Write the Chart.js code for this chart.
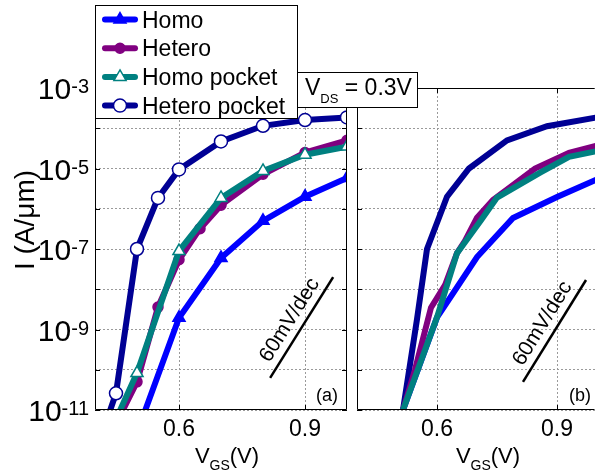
<!DOCTYPE html>
<html>
<head>
<meta charset="utf-8">
<title>Id-Vgs</title>
<script src="https://cdn.jsdelivr.net/npm/chart.js@4.4.0/dist/chart.umd.min.js"></script>
<style>
  body { margin: 0; background: #fff; }
  #wrap { position: relative; width: 595px; height: 474px; }
  #wrap canvas { position: absolute; left: 0; top: 0; }
</style>
</head>
<body>
<div id="wrap">
  <canvas id="chartA" width="595" height="474"></canvas>
  <canvas id="chartB" width="595" height="474"></canvas>
</div>
<script>
const seriesNames = ['Homo', 'Hetero', 'Homo pocket', 'Hetero pocket'];
const seriesColors = ['#0000ff', '#800080', '#008080', '#000094'];

// panel (a), with markers
const vgsHomoA = [0.5, 0.6, 0.7, 0.8, 0.9, 1.0];
const idHomoA = [2.7e-12, 1.95e-9, 6.0e-8, 5.0e-7, 2.0e-6, 5.8e-6];
const vgsHeteroA = [0.45, 0.5, 0.55, 0.6, 0.65, 0.7, 0.8, 0.9, 1.0];
const idHeteroA = [4.5e-12, 5.0e-11, 3.6e-9, 5.4e-8, 3.2e-7, 1.23e-6, 7.2e-6, 2.5e-5, 5.0e-5];
const vgsHomoPocketA = [0.45, 0.5, 0.6, 0.7, 0.8, 0.9, 1.0];
const idHomoPocketA = [5.9e-12, 8.3e-11, 8.9e-8, 1.86e-6, 8.7e-6, 2.2e-5, 3.5e-5];
const vgsHeteroPocketA = [0.4, 0.45, 0.5, 0.55, 0.6, 0.7, 0.8, 0.9, 1.0];
const idHeteroPocketA = [7.9e-13, 2.6e-11, 1.0e-7, 1.86e-6, 9.5e-6, 4.7e-5, 1.15e-4, 1.6e-4, 1.86e-4];

// panel (b), lines only
const vgsHomoB = [0.515, 0.6, 0.64, 0.7, 0.79, 0.9, 1.0];
const idHomoB = [1e-11, 2.0e-9, 7.9e-9, 6.3e-8, 5.9e-7, 1.95e-6, 5.4e-6];
const vgsHeteroB = [0.515, 0.545, 0.585, 0.62, 0.65, 0.67, 0.7, 0.74, 0.845, 0.93, 1.0];
const idHeteroB = [1e-11, 1e-10, 3.5e-9, 1.26e-8, 7.9e-8, 1.6e-7, 6.0e-7, 1.66e-6, 1.0e-5, 2.45e-5, 3.7e-5];
const vgsHomoPocketB = [0.515, 0.6, 0.65, 0.665, 0.71, 0.75, 0.86, 0.93, 1.0];
const idHomoPocketB = [1e-11, 2.0e-9, 7.9e-8, 1.26e-7, 5.2e-7, 1.9e-6, 8.1e-6, 1.95e-5, 2.7e-5];
const vgsHeteroPocketB = [0.515, 0.55, 0.575, 0.625, 0.68, 0.775, 0.875, 1.0];
const idHeteroPocketB = [1e-11, 1.8e-9, 1e-7, 2.0e-6, 1e-5, 5.0e-5, 1.12e-4, 1.86e-4];

// 60 mV/dec guide lines
const slopeVgsA = [0.817, 0.967];
const slopeIdA = [6.3e-11, 2.0e-8];
const slopeVgsB = [0.815, 0.9725];
const slopeIdB = [5.0e-11, 1.7e-8];

const xTicks = [0.6, 0.9];
const yDecades = [1e-11, 1e-10, 1e-9, 1e-8, 1e-7, 1e-6, 1e-5, 1e-4, 1e-3];
const yLabelExps = [-11, -9, -7, -5, -3];

const FONT = 'Arial, "Liberation Sans", sans-serif';
const font = size => size + 'px ' + FONT;

const markerStyles = [
  { pointStyle: 'triangle', radius: 7, solid: true },
  { pointStyle: 'circle', radius: 5, solid: true },
  { pointStyle: 'triangle', radius: 7, solid: false },
  { pointStyle: 'circle', radius: 6.5, solid: false }
];
const drawOrder = [2, 1, 0, 3];

function toPoints(xs, ys) {
  return xs.map((x, i) => ({ x: x, y: ys[i] }));
}

function seriesDataset(i, xs, ys, withMarkers) {
  const m = markerStyles[i];
  return {
    label: seriesNames[i],
    data: toPoints(xs, ys),
    borderColor: seriesColors[i],
    borderWidth: 6,
    pointStyle: m.pointStyle,
    pointRadius: withMarkers ? m.radius : 0,
    pointBackgroundColor: m.solid ? seriesColors[i] : '#fff',
    pointBorderColor: seriesColors[i],
    pointBorderWidth: 1.5,
    tension: 0,
    order: drawOrder[i]
  };
}

function slopeDataset(xs, ys) {
  return { data: toPoints(xs, ys), borderColor: '#000', borderWidth: 2.5, pointRadius: 0, order: 10 };
}

function panelOptions(xMax, yWidth, padRight) {
  return {
    responsive: false,
    animation: false,
    events: [],
    layout: { padding: { top: 88, right: padRight, left: 0, bottom: 0 } },
    plugins: { legend: { display: false }, tooltip: { enabled: false } },
    scales: {
      x: {
        type: 'linear', min: 0.4, max: xMax,
        afterBuildTicks: s => { s.ticks = xTicks.map(v => ({ value: v })); },
        afterFit: s => { s.height = 64; },
        grid: { color: '#9a9a9a', lineWidth: 1, drawTicks: false },
        border: { display: false, dash: [2, 2] },
        ticks: { color: '#000', font: { size: 23, family: FONT }, padding: 6, maxRotation: 0, autoSkip: false }
      },
      y: {
        type: 'logarithmic', min: 1e-11, max: 1e-3,
        afterBuildTicks: s => { s.ticks = yDecades.map(v => ({ value: v })); },
        afterFit: s => { s.width = yWidth; },
        grid: { color: '#9a9a9a', lineWidth: 1, drawTicks: false },
        border: { display: false, dash: [2, 2] },
        ticks: { display: false }
      }
    }
  };
}

function drawRuns(ctx, runs, x, y) {
  ctx.textAlign = 'left';
  ctx.textBaseline = 'alphabetic';
  for (const [t, size, dy] of runs) {
    ctx.font = font(size);
    ctx.fillText(t, x, y + dy);
    x += ctx.measureText(t).width;
  }
  return x;
}

function runsWidth(ctx, runs) {
  let w = 0;
  for (const [t, size] of runs) { ctx.font = font(size); w += ctx.measureText(t).width; }
  return w;
}

function drawFrame(ctx, a, sides) {
  const l = Math.round(a.left) + 0.5, r = Math.round(a.right) - 0.5;
  const t = Math.round(a.top) + 0.5, b = Math.round(a.bottom) - 0.5;
  ctx.save();
  ctx.strokeStyle = '#000';
  ctx.lineWidth = 1;
  ctx.beginPath();
  if (sides.includes('l')) { ctx.moveTo(l, t); ctx.lineTo(l, b); }
  if (sides.includes('r')) { ctx.moveTo(r, t); ctx.lineTo(r, b); }
  if (sides.includes('t')) { ctx.moveTo(l, t); ctx.lineTo(r, t); }
  if (sides.includes('b')) { ctx.moveTo(l, b); ctx.lineTo(r, b); }
  ctx.stroke();
  ctx.restore();
}

// tick marks point into the plot
function drawInnerTicks(ctx, chart, sides) {
  const a = chart.chartArea, xs = chart.scales.x, ys = chart.scales.y;
  ctx.save();
  ctx.strokeStyle = '#000';
  ctx.lineWidth = 1;
  ctx.beginPath();
  yDecades.forEach(v => {
    const py = Math.round(ys.getPixelForValue(v)) + 0.5;
    if (sides.includes('l')) { ctx.moveTo(a.left, py); ctx.lineTo(a.left + 5, py); }
    if (sides.includes('r')) { ctx.moveTo(a.right, py); ctx.lineTo(a.right - 5, py); }
  });
  xTicks.forEach(v => {
    const px = Math.round(xs.getPixelForValue(v)) + 0.5;
    ctx.moveTo(px, a.bottom); ctx.lineTo(px, a.bottom - 5);
    ctx.moveTo(px, a.top); ctx.lineTo(px, a.top + 5);
  });
  ctx.stroke();
  ctx.restore();
}

function drawSlopeLabel(ctx, chart, vx, vy) {
  const xs = chart.scales.x, ys = chart.scales.y;
  const x1 = xs.getPixelForValue(vx[0]), y1 = ys.getPixelForValue(vy[0]);
  const x2 = xs.getPixelForValue(vx[1]), y2 = ys.getPixelForValue(vy[1]);
  const ang = Math.atan2(y2 - y1, x2 - x1);
  const cx = (x1 + x2) / 2 + Math.sin(ang) * 14;
  const cy = (y1 + y2) / 2 - Math.cos(ang) * 14;
  ctx.save();
  ctx.translate(cx, cy);
  ctx.rotate(ang);
  ctx.fillStyle = '#000';
  ctx.font = font(21);
  ctx.textAlign = 'center';
  ctx.textBaseline = 'middle';
  ctx.fillText('60mV/dec', 0, 0);
  ctx.restore();
}

function drawVgsTitle(ctx, cx) {
  const runs = [['V', 22, 0], ['GS', 14, 7], ['(V)', 22, 0]];
  ctx.fillStyle = '#000';
  drawRuns(ctx, runs, cx - runsWidth(ctx, runs) / 2, 463);
}

function drawPanelTag(ctx, text, cx) {
  ctx.fillStyle = '#000';
  ctx.font = font(18);
  ctx.textAlign = 'center';
  ctx.textBaseline = 'middle';
  ctx.fillText(text, cx, 396);
}

function drawYAxisText(ctx, chart) {
  const ys = chart.scales.y;
  ctx.fillStyle = '#000';
  ctx.textAlign = 'left';
  ctx.textBaseline = 'alphabetic';
  yLabelExps.forEach(e => {
    const py = ys.getPixelForValue(Math.pow(10, e));
    ctx.font = font(30);
    const wb = ctx.measureText('10').width;
    ctx.font = font(20);
    const ws = ctx.measureText(String(e)).width;
    const x0 = chart.chartArea.left - 6 - wb - ws;
    ctx.font = font(30);
    ctx.fillText('10', x0, py + 11);
    ctx.font = font(20);
    ctx.fillText(String(e), x0 + wb, py + 5);
  });
  ctx.save();
  ctx.translate(34, 220);
  ctx.rotate(-Math.PI / 2);
  ctx.font = font(28);
  ctx.textAlign = 'center';
  ctx.fillText('I (A/\u03bcm)', 0, 0);
  ctx.restore();
}

function drawLegend(ctx) {
  const bx = 95, by = 5, bw = 202, bh = 113;
  ctx.save();
  ctx.fillStyle = '#fff';
  ctx.fillRect(bx, by, bw, bh);
  ctx.strokeStyle = '#000';
  ctx.lineWidth = 1;
  ctx.strokeRect(bx + 0.5, by + 0.5, bw, bh);
  seriesNames.forEach((name, i) => {
    const cy = 19.5 + i * 28.7;
    const m = markerStyles[i];
    ctx.strokeStyle = seriesColors[i];
    ctx.lineWidth = 6;
    ctx.lineCap = 'round';
    ctx.beginPath();
    ctx.moveTo(105, cy);
    ctx.lineTo(135, cy);
    ctx.stroke();
    ctx.fillStyle = m.solid ? seriesColors[i] : '#fff';
    ctx.lineWidth = 1.5;
    Chart.helpers.drawPoint(ctx, { pointStyle: m.pointStyle, radius: m.radius, borderWidth: 1.5, rotation: 0 }, 120, cy);
    ctx.fillStyle = '#000';
    ctx.font = font(23);
    ctx.textAlign = 'left';
    ctx.textBaseline = 'alphabetic';
    ctx.fillText(name, 142, cy + 8);
  });
  ctx.restore();
}

function drawVdsBox(ctx) {
  ctx.save();
  ctx.fillStyle = '#fff';
  ctx.fillRect(297, 72, 120, 35);
  ctx.strokeStyle = '#000';
  ctx.lineWidth = 1;
  ctx.strokeRect(297.5, 72.5, 120, 35);
  ctx.fillStyle = '#000';
  drawRuns(ctx, [['V', 23, 0], ['DS', 13, 8], [' = 0.3V', 23, 0]], 305, 95);
  ctx.restore();
}

const decorA = {
  id: 'decorA',
  afterDraw(chart) {
    const ctx = chart.ctx;
    drawFrame(ctx, chart.chartArea, 'lrtb');
    drawInnerTicks(ctx, chart, 'lr');
    drawYAxisText(ctx, chart);
    drawVgsTitle(ctx, 227);
    drawSlopeLabel(ctx, chart, slopeVgsA, slopeIdA);
    drawPanelTag(ctx, '(a)', 327);
    drawLegend(ctx);
  }
};

const decorB = {
  id: 'decorB',
  afterDraw(chart) {
    const ctx = chart.ctx;
    drawFrame(ctx, chart.chartArea, 'ltb');
    drawInnerTicks(ctx, chart, 'l');
    drawVgsTitle(ctx, 488);
    drawSlopeLabel(ctx, chart, slopeVgsB, slopeIdB);
    drawPanelTag(ctx, '(b)', 580);
    drawVdsBox(ctx);
  }
};

new Chart(document.getElementById('chartA'), {
  type: 'line',
  data: {
    datasets: [
      seriesDataset(0, vgsHomoA, idHomoA, true),
      seriesDataset(1, vgsHeteroA, idHeteroA, true),
      seriesDataset(2, vgsHomoPocketA, idHomoPocketA, true),
      seriesDataset(3, vgsHeteroPocketA, idHeteroPocketA, true),
      slopeDataset(slopeVgsA, slopeIdA)
    ]
  },
  options: panelOptions(1.0, 95, 248),
  plugins: [decorA]
});

new Chart(document.getElementById('chartB'), {
  type: 'line',
  data: {
    datasets: [
      seriesDataset(0, vgsHomoB, idHomoB, false),
      seriesDataset(1, vgsHeteroB, idHeteroB, false),
      seriesDataset(2, vgsHomoPocketB, idHomoPocketB, false),
      seriesDataset(3, vgsHeteroPocketB, idHeteroPocketB, false),
      slopeDataset(slopeVgsB, slopeIdB)
    ]
  },
  options: panelOptions(0.995, 357, 0),
  plugins: [decorB]
});
</script>
</body>
</html>
